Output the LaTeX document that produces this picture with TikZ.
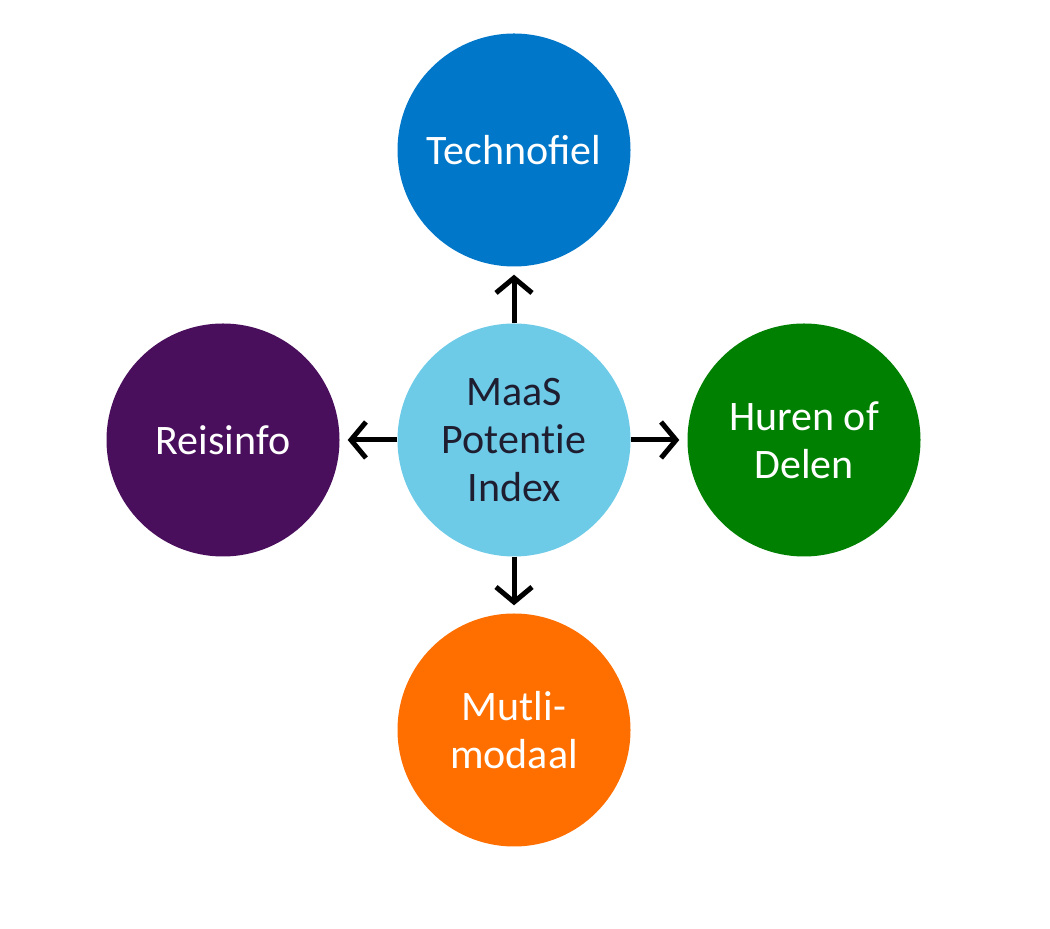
\documentclass[tikz,border=0pt]{standalone}
\usepackage{fontspec}
\setmainfont{Carlito}
\usetikzlibrary{arrows.meta}
\definecolor{cTech}{HTML}{0077C8}
\definecolor{cMaas}{HTML}{6DCBE8}
\definecolor{cReis}{HTML}{4A0F5C}
\definecolor{cHuur}{HTML}{008000}
\definecolor{cMulti}{HTML}{FF6F00}
\definecolor{cDark}{HTML}{1E1E30}
\begin{document}
\begin{tikzpicture}[x=1pt,y=1pt,
  bubble/.style={circle, minimum size=233pt, inner sep=0pt, align=center, text=white,
    font=\fontsize{42}{48}\selectfont},
  conn/.style={line width=5pt, -{Straight Barb[length=15pt,width=36pt,line width=5pt]}}]
\useasboundingbox (0,0) rectangle (1050,929);
\node[bubble, fill=cMaas, text=cDark] (c) at (514,489) {MaaS\\Poten\mbox{t}ie\\Index};
\node[bubble, fill=cTech] (t) at (514,779) {Technofiel};
\node[bubble, fill=cReis] (r) at (223,489) {Reisinfo};
\node[bubble, fill=cHuur] (h) at (804,489) {Huren of\\Delen};
\node[bubble, fill=cMulti] (m) at (514,199) {Mutli-\\modaal};
\draw[conn] (c.north) -- ([yshift=-8pt]t.south);
\draw[conn] (c.south) -- ([yshift=8pt]m.north);
\draw[conn] (c.west) -- ([xshift=8pt]r.east);
\draw[conn] (c.east) -- ([xshift=-8pt]h.west);
\end{tikzpicture}
\end{document}
